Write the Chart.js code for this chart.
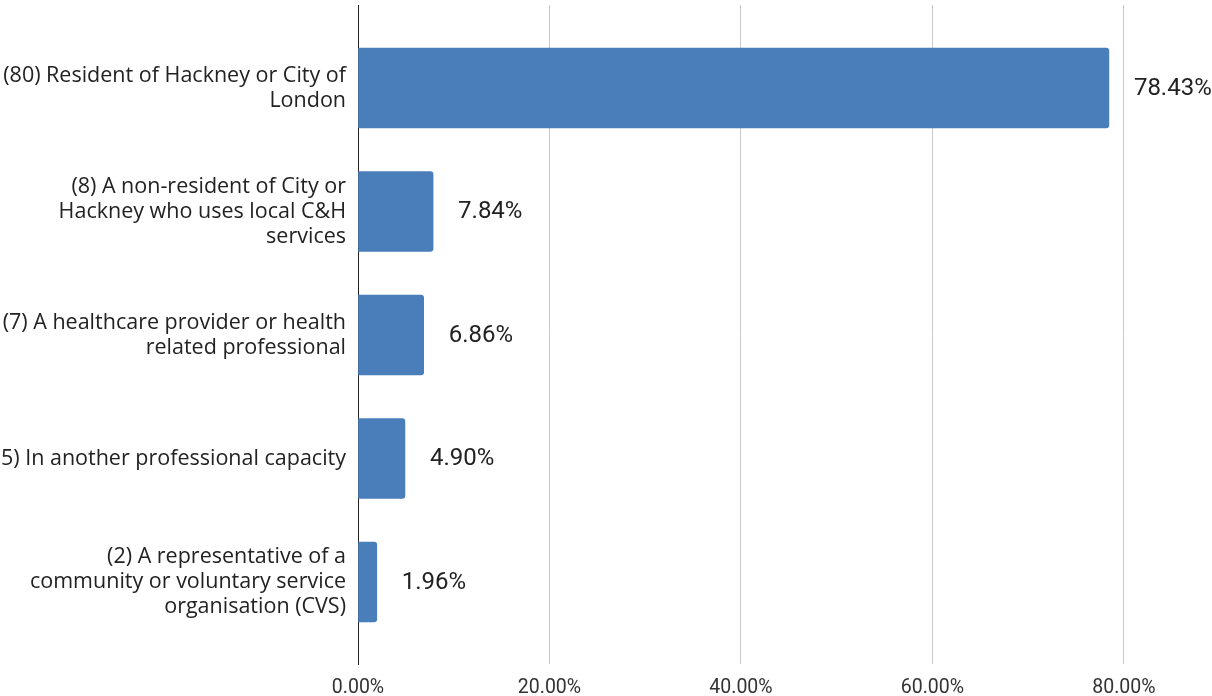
<!DOCTYPE html>
<html>
<head>
<meta charset="utf-8">
<script src="https://cdn.jsdelivr.net/npm/chart.js@4"></script>
<style>
html,body{margin:0;padding:0;background:#fff;}
#wrap{width:1212px;height:696px;position:relative;}
</style>
</head>
<body>
<div id="wrap"><canvas id="c"></canvas></div>
<script>
const categories = [
  ["(80) Resident of Hackney or City of", "London"],
  ["(8) A non-resident of City or", "Hackney who uses local C&H", "services"],
  ["(7) A healthcare provider or health", "related professional"],
  "(5) In another professional capacity",
  ["(2) A representative of a", "community or voluntary service", "organisation (CVS)"]
];
const percentValues = [78.43, 7.84, 6.86, 4.90, 1.96];
const xTickValues = [0, 20, 40, 60, 80];

const valueLabels = {
  id: 'valueLabels',
  afterDatasetsDraw(chart) {
    const ctx = chart.ctx;
    const meta = chart.getDatasetMeta(0);
    ctx.save();
    ctx.font = '24px Roboto';
    ctx.fillStyle = '#222';
    ctx.textAlign = 'left';
    ctx.textBaseline = 'middle';
    meta.data.forEach((el, i) => {
      ctx.fillText(percentValues[i].toFixed(2) + '%', el.x + 25, el.y + 1);
    });
    ctx.restore();
  }
};

new Chart(document.getElementById('c'), {
  type: 'bar',
  data: {
    datasets: [{
      data: percentValues.map((v, i) => ({x: v, y: i})),
      backgroundColor: '#4a7ebb',
      borderRadius: {topLeft: 0, bottomLeft: 0, topRight: 3, bottomRight: 3},
      borderSkipped: false,
      barThickness: 80
    }]
  },
  options: {
    indexAxis: 'y',
    responsive: true,
    maintainAspectRatio: false,
    animation: false,
    layout: {padding: {top: 5, right: 0, left: 0, bottom: 0}},
    plugins: {legend: {display: false}, tooltip: {enabled: false}},
    scales: {
      x: {
        type: 'linear',
        min: 0,
        max: 89.2,
        offset: false,
        afterBuildTicks(scale) { scale.ticks = xTickValues.map(v => ({value: v})); },
        afterFit(scale) { scale.height = 32; scale.paddingLeft = 0; scale.paddingRight = 0; },
        border: {display: false},
        grid: {color: '#c8c8c8', lineWidth: 1, drawTicks: false, offset: false},
        ticks: {
          padding: 12,
          color: '#333',
          font: {family: 'Roboto', size: 19.5},
          maxRotation: 0,
          callback: v => v.toFixed(2) + '%'
        }
      },
      y: {
        type: 'linear',
        reverse: true,
        offset: false,
        min: -0.672,
        max: 4.664,
        afterBuildTicks(scale) { scale.ticks = categories.map((_, i) => ({value: i})); },
        afterFit(scale) { scale.width = 358; scale.paddingTop = 0; scale.paddingBottom = 0; },
        border: {display: true, color: '#222', width: 1},
        grid: {display: false, drawTicks: false, offset: false},
        ticks: {
          padding: 12,
          color: '#222',
          font: {family: 'Open Sans', size: 21.5, lineHeight: 1.163},
          callback: v => categories[v]
        }
      }
    }
  },
  plugins: [valueLabels]
});
</script>
</body>
</html>
